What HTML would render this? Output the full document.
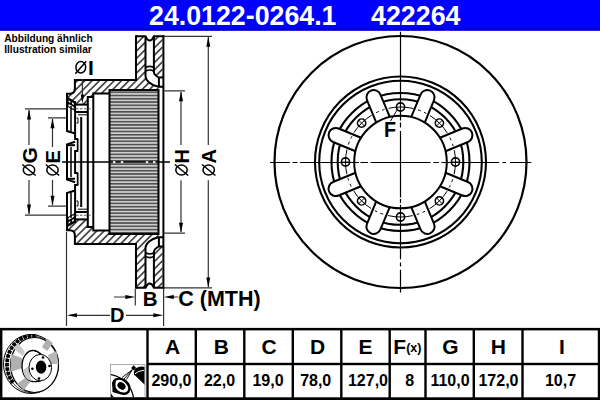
<!DOCTYPE html>
<html><head><meta charset="utf-8">
<style>
html,body{margin:0;padding:0;background:#fff;}
body{width:600px;height:400px;overflow:hidden;position:relative;font-family:"Liberation Sans",sans-serif;}
svg{position:absolute;left:0;top:0;}
text{font-family:"Liberation Sans",sans-serif;font-weight:bold;}
</style></head><body>
<svg width="600" height="400" viewBox="0 0 600 400">
<defs>
<pattern id="hatch" patternUnits="userSpaceOnUse" width="5.2" height="10" patternTransform="rotate(45)">
<line x1="2.6" y1="-2" x2="2.6" y2="12" stroke="#000" stroke-width="1.25"/>
</pattern>
<pattern id="hatch2" patternUnits="userSpaceOnUse" width="5.2" height="10" patternTransform="rotate(-45)">
<line x1="2.6" y1="-2" x2="2.6" y2="12" stroke="#000" stroke-width="1.25"/>
</pattern>
<pattern id="rib" patternUnits="userSpaceOnUse" width="10" height="3.27" y="-0.12">
<rect x="0" y="0" width="10" height="3.27" fill="#cdcdcd"/>
<rect x="0" y="0" width="10" height="1.55" fill="#4e4e4e"/>
</pattern>
</defs>
<!-- header -->
<rect x="0" y="0" width="600" height="30.6" fill="#0000ff"/>
<rect x="0" y="28.6" width="600" height="2" fill="#0000c4"/>
<text x="149" y="24.8" font-size="27.8" fill="#fff" textLength="187.5" lengthAdjust="spacingAndGlyphs">24.0122-0264.1</text>
<text x="371" y="24.8" font-size="27.8" fill="#fff" textLength="89.5" lengthAdjust="spacingAndGlyphs">422264</text>

<text x="4.2" y="41.6" font-size="10" fill="#000" textLength="88.4" lengthAdjust="spacingAndGlyphs">Abbildung ähnlich</text>
<text x="4.2" y="52.7" font-size="10" fill="#000" textLength="87.6" lengthAdjust="spacingAndGlyphs">Illustration similar</text>

<!-- ====== SECTION VIEW ====== -->
<rect x="109.5" y="90" width="49" height="144" fill="url(#rib)"/>
<g id="half">
  <!-- hatched areas -->
  <path d="M136,36.3 H145.5 V76 C145.5,80 150,85 158.5,86.8 V90 H109.5 V93.6 H93.3 V96.9 H87.8 V104.6 H75 L67,97.5 V93.7 H69.5 Q74.9,93.7 74.9,88.5 V80 H136 Z" fill="url(#hatch)"/>
  <path d="M153.9,36.3 H162.4 V77.5 H158.7 C156,76 153.9,74 153.9,72 Z" fill="url(#hatch)"/>
  <!-- drum ribs -->
  <!-- outlines -->
  <g fill="none" stroke="#000" stroke-width="2">
    <path d="M163.4,35.3 V162"/>
    <path d="M136,36.3 H145.5 Q147.3,40.4 149.7,40.4 Q152.1,40.4 153.9,36.3 H164.4"/>
    <path d="M136,35.3 V80 H74.9 V88.5 Q74.9,93.7 69.5,93.7 H67 V130.9 L75.1,133.5"/>
    <path d="M145.5,36.3 V76 C145.5,80 150,85 158.5,86.8 H163"/>
    <path d="M153.9,36.3 V72 C153.9,74 156,76 158.7,77.5 H163"/>
    <path d="M158.9,77.5 V87"/>
    <path d="M145.5,67.6 Q149.7,65.2 153.9,67.6" stroke-width="1.6"/>
    <path d="M145.5,71.2 Q149.7,68.8 153.9,71.2" stroke-width="1.6"/>
    <path d="M109.5,90 H158.5 V162"/>
    <path d="M109.5,89 V162"/>
    <path d="M109.5,93.6 H93.3 V162"/>
    <path d="M93.3,96.9 H87.8 V162"/>
    <path d="M75,104.6 H87.8"/>
    <path d="M75,112 H87.8"/>
    <path d="M75.1,101 V139 H77.2 Q77.8,139 77.8,140 V150.5 Q77.8,151.1 77.2,151.1 H75.1 V162"/>
    <path d="M75.1,141.8 L67,144.4 V162"/>
    <path d="M67,145.2 H75"/>
    <path d="M81.2,117 V162"/>
    <path d="M67,97.5 L75,102.3" stroke-width="1.6"/>
  </g>
  <path d="M67,98 L75,102.5 L75,111 L67,106.5 Z" fill="#000"/>
  <path d="M68.6,100.3 L70.3,101.3 L70.3,103 L68.6,102 Z M72,102.3 L73.8,103.3 L73.8,104.9 L72,103.9 Z M68.6,104 L73.8,107 L73.8,109.3 L68.6,106.3 Z" fill="#fff"/>
  <g fill="none" stroke="#000" stroke-width="2">
  </g>
  <g fill="none" stroke="#000" stroke-width="1">
    <path d="M71,106 V131.6 M71,147 V162" stroke-width="1.5"/>
    <path d="M78,114.8 H87"/>
    <path d="M76.5,118 H78 V123 H76.5"/>
  </g>
  <path d="M79,140 V162" stroke="#ccc" stroke-width="1"/>
  <!-- dashed bolt centre line -->
  <path d="M72,108.8 H92" stroke="#555" stroke-width="1" stroke-dasharray="2.5,1.5"/>
</g>
<g transform="translate(0,324) scale(1,-1)">
  <!-- hatched areas -->
  <path d="M136,36.3 H145.5 V76 C145.5,80 150,85 158.5,86.8 V90 H109.5 V93.6 H93.3 V96.9 H87.8 V104.6 H75 L67,97.5 V93.7 H69.5 Q74.9,93.7 74.9,88.5 V80 H136 Z" fill="url(#hatch2)"/>
  <path d="M153.9,36.3 H162.4 V77.5 H158.7 C156,76 153.9,74 153.9,72 Z" fill="url(#hatch2)"/>
  <!-- drum ribs -->
  <!-- outlines -->
  <g fill="none" stroke="#000" stroke-width="2">
    <path d="M163.4,35.3 V162"/>
    <path d="M136,36.3 H145.5 Q147.3,40.4 149.7,40.4 Q152.1,40.4 153.9,36.3 H164.4"/>
    <path d="M136,35.3 V80 H74.9 V88.5 Q74.9,93.7 69.5,93.7 H67 V130.9 L75.1,133.5"/>
    <path d="M145.5,36.3 V76 C145.5,80 150,85 158.5,86.8 H163"/>
    <path d="M153.9,36.3 V72 C153.9,74 156,76 158.7,77.5 H163"/>
    <path d="M158.9,77.5 V87"/>
    <path d="M145.5,67.6 Q149.7,65.2 153.9,67.6" stroke-width="1.6"/>
    <path d="M145.5,71.2 Q149.7,68.8 153.9,71.2" stroke-width="1.6"/>
    <path d="M109.5,90 H158.5 V162"/>
    <path d="M109.5,89 V162"/>
    <path d="M109.5,93.6 H93.3 V162"/>
    <path d="M93.3,96.9 H87.8 V162"/>
    <path d="M75,104.6 H87.8"/>
    <path d="M75,112 H87.8"/>
    <path d="M75.1,101 V139 H77.2 Q77.8,139 77.8,140 V150.5 Q77.8,151.1 77.2,151.1 H75.1 V162"/>
    <path d="M75.1,141.8 L67,144.4 V162"/>
    <path d="M67,145.2 H75"/>
    <path d="M81.2,117 V162"/>
    <path d="M67,97.5 L75,102.3" stroke-width="1.6"/>
  </g>
  <path d="M67,98 L75,102.5 L75,111 L67,106.5 Z" fill="#000"/>
  <path d="M68.6,100.3 L70.3,101.3 L70.3,103 L68.6,102 Z M72,102.3 L73.8,103.3 L73.8,104.9 L72,103.9 Z M68.6,104 L73.8,107 L73.8,109.3 L68.6,106.3 Z" fill="#fff"/>
  <g fill="none" stroke="#000" stroke-width="2">
  </g>
  <g fill="none" stroke="#000" stroke-width="1">
    <path d="M71,106 V131.6 M71,147 V162" stroke-width="1.5"/>
    <path d="M78,114.8 H87"/>
    <path d="M76.5,118 H78 V123 H76.5"/>
  </g>
  <path d="M79,140 V162" stroke="#ccc" stroke-width="1"/>
  <!-- dashed bolt centre line -->
  <path d="M72,108.8 H92" stroke="#555" stroke-width="1" stroke-dasharray="2.5,1.5"/>
</g>


<!-- centre line of section -->
<path d="M113,162 H115.5 M120.8,162 H123.3 M145.8,162 H148.3 M153,162 H155.5" stroke="#fff" stroke-width="1.6"/>
<path d="M62,162 H113 M115.5,162 H120.8 M123.3,162 H145.8 M148.3,162 H153 M155.5,162 H170" stroke="#000" stroke-width="1.3"/>

<!-- ====== dimension lines ====== -->
<g stroke="#333" stroke-width="1.2" fill="none">
  <!-- G -->
  <path d="M25,108.8 H66 M25,215.2 H66"/>
  <path d="M29,110 V145 M29,180 V214"/>
  <!-- E -->
  <path d="M48,117.8 H66 M48,206.2 H66"/>
  <path d="M52.5,119 V147 M52.5,180 V205"/>
  <!-- H -->
  <path d="M163.5,90.8 H185 M163.5,233.2 H185"/>
  <path d="M181,92 V145 M181,180.2 V232"/>
  <!-- A -->
  <path d="M163.5,36.3 H212 M163.5,287.9 H212"/>
  <path d="M208.3,37 V145 M208.3,180.2 V287"/>
  <!-- I -->
  <path d="M82.4,79 V100"/>
  <!-- B / C / D -->
  <path d="M135.3,289 V305.5 M163.6,289 V326 M66.5,232 V326"/>
  <path d="M114,297 H130 M170,297 H178.3"/>
  <path d="M70,315.3 H110 M126,315.3 H158"/>
</g>
<g fill="#000">
  <!-- arrows -->
  <path d="M29,109.5 l-2,10 h4z M29,214.5 l-2,-10 h4z"/>
  <path d="M52.5,118.3 l-2,10 h4z M52.5,205.7 l-2,-10 h4z"/>
  <path d="M181,91.3 l-2,10 h4z M181,232.7 l-2,-10 h4z"/>
  <path d="M208.3,36.8 l-2,10 h4z M208.3,287.4 l-2,-10 h4z"/>
  <path d="M82.4,103.6 l-1.7,-9 h3.4z"/>
  <path d="M135.3,297 l-10,-2 v4z M163.8,297 l10,-2 v4z"/>
  <path d="M67,315.3 l10,-2 v4z M163.3,315.3 l-10,-2 v4z"/>
</g>
<g fill="#000" font-size="20">
  <text transform="translate(37,163.5) rotate(-90)" font-size="21">G</text>
  <text transform="translate(59.8,163.5) rotate(-90)">E</text>
  <text transform="translate(188.8,163.5) rotate(-90)">H</text>
  <text transform="translate(216,163.5) rotate(-90)">A</text>
  <text x="88.1" y="74.6" font-size="21">I</text>
  <text x="142.8" y="306" font-size="20.5">B</text>
  <text x="178.3" y="306.3" font-size="21.5">C (MTH)</text>
  <text x="110" y="321.8" font-size="20">D</text>
</g>
<g fill="none" stroke="#000" stroke-width="1.5">
  <ellipse cx="29" cy="170" rx="5.7" ry="4.9"/><path d="M22.3,164.5 L35.7,175.5"/>
  <ellipse cx="52.5" cy="170" rx="5.7" ry="4.9"/><path d="M45.8,164.5 L59.2,175.5"/>
  <ellipse cx="181.5" cy="170" rx="5.7" ry="4.9"/><path d="M174.8,164.5 L188.2,175.5"/>
  <ellipse cx="208.7" cy="170" rx="5.7" ry="4.9"/><path d="M202,164.5 L215.4,175.5"/>
  <ellipse cx="80.8" cy="67.3" rx="4.9" ry="5.7"/><path d="M75.3,73.8 L86.3,61.3"/>
</g>

<!-- ====== FRONT VIEW ====== -->
<g fill="none" stroke="#000">
  <circle cx="400.5" cy="162" r="126" stroke-width="2.2"/>
  <circle cx="400.5" cy="162" r="85.5" stroke-width="2.1"/>
  <circle cx="400.5" cy="162" r="81.3" stroke-width="2.1"/>
  <circle cx="400.5" cy="162" r="69" stroke-width="2.1"/>
  <circle cx="400.5" cy="162" r="62.8" stroke-width="2.1"/>
</g>
<g fill="#fff" stroke="#000" stroke-width="2">
<path transform="rotate(22.5 400.5 162.0)" d="M393.20,116.30 V92.00 A7.3,7.3 0 0 1 407.80,92.00 V116.30"/>
<path transform="rotate(67.5 400.5 162.0)" d="M393.20,116.30 V92.00 A7.3,7.3 0 0 1 407.80,92.00 V116.30"/>
<path transform="rotate(112.5 400.5 162.0)" d="M393.20,116.30 V92.00 A7.3,7.3 0 0 1 407.80,92.00 V116.30"/>
<path transform="rotate(157.5 400.5 162.0)" d="M393.20,116.30 V92.00 A7.3,7.3 0 0 1 407.80,92.00 V116.30"/>
<path transform="rotate(202.5 400.5 162.0)" d="M393.20,116.30 V92.00 A7.3,7.3 0 0 1 407.80,92.00 V116.30"/>
<path transform="rotate(247.5 400.5 162.0)" d="M393.20,116.30 V92.00 A7.3,7.3 0 0 1 407.80,92.00 V116.30"/>
<path transform="rotate(292.5 400.5 162.0)" d="M393.20,116.30 V92.00 A7.3,7.3 0 0 1 407.80,92.00 V116.30"/>
<path transform="rotate(337.5 400.5 162.0)" d="M393.20,116.30 V92.00 A7.3,7.3 0 0 1 407.80,92.00 V116.30"/>
</g>
<circle cx="400.5" cy="162" r="46.3" fill="none" stroke="#000" stroke-width="2"/>
<circle cx="400.5" cy="162" r="55" fill="none" stroke="#000" stroke-width="1" stroke-dasharray="25,5,3,3.5,2.5,4.197" stroke-dashoffset="12.5"/>
<g fill="none" stroke="#000" stroke-width="1.6">
<g transform="rotate(0 400.5 162.0)"><circle cx="400.50" cy="107.00" r="4.1"/><path d="M400.50,102.70 v8.6" stroke-width="0.9"/></g>
<g transform="rotate(45 400.5 162.0)"><circle cx="400.50" cy="107.00" r="4.1"/><path d="M400.50,102.70 v8.6" stroke-width="0.9"/></g>
<g transform="rotate(90 400.5 162.0)"><circle cx="400.50" cy="107.00" r="4.1"/><path d="M400.50,102.70 v8.6" stroke-width="0.9"/></g>
<g transform="rotate(135 400.5 162.0)"><circle cx="400.50" cy="107.00" r="4.1"/><path d="M400.50,102.70 v8.6" stroke-width="0.9"/></g>
<g transform="rotate(180 400.5 162.0)"><circle cx="400.50" cy="107.00" r="4.1"/><path d="M400.50,102.70 v8.6" stroke-width="0.9"/></g>
<g transform="rotate(225 400.5 162.0)"><circle cx="400.50" cy="107.00" r="4.1"/><path d="M400.50,102.70 v8.6" stroke-width="0.9"/></g>
<g transform="rotate(270 400.5 162.0)"><circle cx="400.50" cy="107.00" r="4.1"/><path d="M400.50,102.70 v8.6" stroke-width="0.9"/></g>
<g transform="rotate(315 400.5 162.0)"><circle cx="400.50" cy="107.00" r="4.1"/><path d="M400.50,102.70 v8.6" stroke-width="0.9"/></g>
</g>
<path d="M400.5,31.8 V120.5 M400.5,122.5 V127.5 M400.5,131.0 V197.4 M400.5,199.0 V203.0 M400.5,204.7 V259.3 M400.5,262.5 V266.6 M400.5,269.8 V292.6 M270.0,162.5 H290.0 M292.5,162.5 H297.5 M300.0,162.5 H359.0 M360.5,162.5 H368.0 M370.5,162.5 H430.5 M433.5,162.5 H439.0 M441.5,162.5 H499.0 M502.5,162.5 H506.0 M510.0,162.5 H531.3" stroke="#000" stroke-width="1.2" fill="none"/>
<text x="384" y="137.4" font-size="22.5" fill="#000" textLength="12" lengthAdjust="spacingAndGlyphs">F</text>
<path d="M390.5,121 L398,108.5" stroke="#000" stroke-width="1"/>


<!-- thumbnail disc -->
<g>
  <ellipse cx="31" cy="364" rx="27.5" ry="29.5" fill="#fff" stroke="#000" stroke-width="1"/>
  <ellipse cx="32.3" cy="364.4" rx="25.7" ry="28.4" fill="none" stroke="#000" stroke-width="0.7"/>
  <path d="M13,382.8 A25.6,28.6 0 0 1 36.9,336.2" fill="none" stroke="#000" stroke-width="3.8" stroke-dasharray="3.4,1"/>
  <ellipse cx="34.5" cy="365" rx="24" ry="27.5" fill="#fff" stroke="#000" stroke-width="1.2"/>
  <path d="M42,347 L47,338.5 L53,343 L47,351 Z" fill="#b0b0b0"/>
  <path d="M48,355 L56.5,351 L58.5,364 L50,364 Z" fill="#b8b8b8"/>
  <path d="M22,358 L11,354 L10.5,372 L22.5,368 Z" fill="#b0b0b0"/>
  <path d="M25,378 L17,384 L24,390 L30,382 Z" fill="#b0b0b0"/>
  <path d="M25,352 L18,343 L14,349 L23,356 Z" fill="#c8c8c8"/>
  <ellipse cx="33" cy="366" rx="11" ry="15.5" fill="#fff" stroke="#000" stroke-width="1.3"/>
  <path d="M33,350.5 L40.3,354.4 L40.3,380.8 L33,381.5 Z" fill="#fff"/>
  <path d="M33,350.5 Q38,351 41.5,354.4 M33,381.5 Q38,382 41,380.8" fill="none" stroke="#000" stroke-width="1.2"/>
  <path d="M23,370 Q24,380 32,381 Q29,375 29,366 Z" fill="#c8c8c8"/>
  <ellipse cx="40.3" cy="367.6" rx="11.3" ry="13.2" fill="#fff" stroke="#000" stroke-width="1"/>
  <ellipse cx="41.1" cy="367.2" rx="5.2" ry="6.6" fill="#000"/>
  <circle cx="43" cy="357.5" r="1.3"/><circle cx="49.5" cy="366" r="1.3"/><circle cx="39" cy="378.5" r="1.3"/><circle cx="32.4" cy="368.8" r="1.3"/>
</g>
<!-- spray icon -->
<g>
  <rect x="110.5" y="364.5" width="34.5" height="33" fill="#fff" stroke="#aaa" stroke-width="1"/>
  <clipPath id="icl"><rect x="111" y="365" width="33.5" height="32"/></clipPath>
  <g clip-path="url(#icl)">
    <circle cx="106.1" cy="402" r="27.7" fill="none" stroke="#000" stroke-width="1.3"/>
    <ellipse cx="121.3" cy="386.2" rx="9" ry="6.6" transform="rotate(38 121.3 386.2)" fill="none" stroke="#000" stroke-width="2.4"/>
    <path d="M112.5,392 Q111.5,384 116,380 Q114,388 119,394 Z" fill="#000"/>
    <ellipse cx="121.5" cy="385.9" rx="4.4" ry="3.3" transform="rotate(38 121.5 385.9)" fill="#000"/>
    <path d="M111,393 Q112,397 116,398 L111,398 Z" fill="#000"/>
    <path d="M132.3,369.7 L122,377.5 M132.3,369.7 L124,379 M132.3,369.7 L126.5,379.5" stroke="#000" stroke-width="0.9"/>
    <rect x="131.9" y="366.1" width="3.6" height="3.6" transform="rotate(45 133.7 367.9)" fill="#000"/>
    <path d="M134,374.5 Q133,368.5 139.5,366.8 Q143.5,366.2 145,367 L145,385 Z" fill="#000"/>
    <path d="M135,373.8 Q138,370.8 144,370.3" stroke="#fff" stroke-width="1" fill="none"/>
  </g>
</g>
<!-- ====== TABLE ====== -->
<g fill="#000">
  <rect x="0" y="327.9" width="600" height="2.5"/>
  <rect x="0" y="397.3" width="600" height="2.7"/>
  <rect x="147" y="362.8" width="453" height="2.4"/>
  <rect x="0" y="328" width="2.4" height="72"/>
  <rect x="597.8" y="328" width="2.2" height="72"/>
  <rect x="146.30" y="328" width="2.4" height="72"/>
  <rect x="194.60" y="328" width="2.4" height="72"/>
  <rect x="243.10" y="328" width="2.4" height="72"/>
  <rect x="291.60" y="328" width="2.4" height="72"/>
  <rect x="340.10" y="328" width="2.4" height="72"/>
  <rect x="388.50" y="328" width="2.4" height="72"/>
  <rect x="424.30" y="328" width="2.4" height="72"/>
  <rect x="472.60" y="328" width="2.4" height="72"/>
  <rect x="521.30" y="328" width="2.4" height="72"/>
</g>
<g fill="#000" font-size="21" text-anchor="middle">
  <text x="172.6" y="354.3">A</text>
  <text x="221.3" y="354.3">B</text>
  <text x="269" y="354.3">C</text>
  <text x="317.7" y="354.3">D</text>
  <text x="365.5" y="354.3">E</text>
  <text x="450.3" y="354.3">G</text>
  <text x="498.3" y="354.3">H</text>
  <text x="562" y="354.3">I</text>
</g>
<text x="393.3" y="354.3" font-size="21" fill="#000">F<tspan font-size="12.5" dy="-2.2">(x)</tspan></text>
<g fill="#000" font-size="16" text-anchor="middle">
  <text x="171.5" y="385.8">290,0</text>
  <text x="219.5" y="385.8">22,0</text>
  <text x="268" y="385.8">19,0</text>
  <text x="315.7" y="385.8">78,0</text>
  <text x="368" y="385.8">127,0</text>
  <text x="409.7" y="385.8">8</text>
  <text x="450" y="385.8">110,0</text>
  <text x="498.5" y="385.8">172,0</text>
  <text x="560.5" y="385.8">10,7</text>
</g>
</svg>
</body></html>
